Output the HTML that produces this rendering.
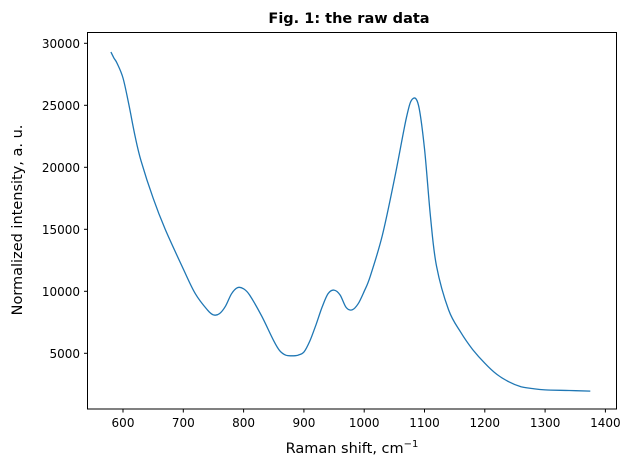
<!DOCTYPE html>
<html><head><meta charset="utf-8"><style>
body{margin:0;background:#fff;}
svg{display:block;font-family:"DejaVu Sans","Liberation Sans",sans-serif;}
</style></head><body>
<svg id="chart" width="629" height="470">
<text x="349" y="23" text-anchor="middle" font-size="14.5" font-weight="bold">Fig. 1: the raw data</text>
<g id="yt"></g><g id="xt"></g>
<path id="line" fill="none" stroke="#1f77b4" stroke-width="1.3"/>
<rect x="87.5" y="32.5" width="529" height="376.5" fill="none" stroke="#000" stroke-width="1"/>
<text x="352" y="453" text-anchor="middle" font-size="14.5">Raman shift, cm<tspan dy="-6" font-size="10">−1</tspan></text>
<text transform="translate(22,220) rotate(-90)" text-anchor="middle" font-size="14.5">Normalized intensity, a. u.</text>
</svg>
<script>
const xs=[580,585,590,600,610,620,630,650,670,700,720,740,750,760,770,780,790,800,810,830,850,860,870,880,890,900,910,920,930,940,950,960,970,980,990,1000,1010,1030,1050,1070,1080,1090,1100,1110,1120,1140,1160,1180,1200,1220,1240,1260,1280,1300,1340,1375];
const ys=[29300,28800,28400,27200,25000,22500,20500,17500,15000,11800,9800,8500,8100,8200,8800,9800,10300,10200,9700,8000,6000,5200,4850,4800,4850,5100,6000,7300,8700,9800,10100,9700,8700,8500,9000,10000,11200,14500,19000,24000,25500,25000,21500,16000,12000,8500,6700,5300,4200,3300,2700,2300,2150,2050,2000,1950];
const xTicks=[600,700,800,900,1000,1100,1200,1300,1400];
const yTicks=[5000,10000,15000,20000,25000,30000];
const X=v=>123+(v-600)*0.603;
const Y=v=>353.3-(v-5000)*0.0124;
const NS="http://www.w3.org/2000/svg";
const line=document.getElementById('line');
const P=xs.map((x,i)=>[X(x),Y(ys[i])]);
let d='M'+P[0][0].toFixed(1)+','+P[0][1].toFixed(1);
for(let i=0;i<P.length-1;i++){
 const p0=P[Math.max(0,i-1)],p1=P[i],p2=P[i+1],p3=P[Math.min(P.length-1,i+2)];
 const c1=[p1[0]+(p2[0]-p0[0])/6,p1[1]+(p2[1]-p0[1])/6];
 const c2=[p2[0]-(p3[0]-p1[0])/6,p2[1]-(p3[1]-p1[1])/6];
 d+='C'+c1.map(v=>v.toFixed(1)).join(',')+' '+c2.map(v=>v.toFixed(1)).join(',')+' '+p2.map(v=>v.toFixed(1)).join(',');
}
line.setAttribute('d',d);
const xt=document.getElementById('xt'),yt=document.getElementById('yt');
xTicks.forEach(t=>{
 const l=document.createElementNS(NS,'line');
 
 
 l.setAttribute('x1',X(t));l.setAttribute('x2',X(t));l.setAttribute('y1',409);l.setAttribute('y2',412.5);l.setAttribute('stroke','#000');
 xt.appendChild(l);
 const s=document.createElementNS(NS,'text');
 
 
 s.setAttribute('x',X(t));s.setAttribute('y',427);s.setAttribute('text-anchor','middle');s.setAttribute('font-size','12');
 s.textContent=t;xt.appendChild(s);
});
yTicks.forEach(t=>{
 const l=document.createElementNS(NS,'line');
 
 
 l.setAttribute('x1',84);l.setAttribute('x2',87.5);l.setAttribute('y1',Y(t));l.setAttribute('y2',Y(t));l.setAttribute('stroke','#000');
 yt.appendChild(l);
 const s=document.createElementNS(NS,'text');
 
 
 s.setAttribute('x',80);s.setAttribute('y',Y(t)+4.5);s.setAttribute('text-anchor','end');s.setAttribute('font-size','12');
 s.textContent=t;yt.appendChild(s);
});
</script>
</body></html>
